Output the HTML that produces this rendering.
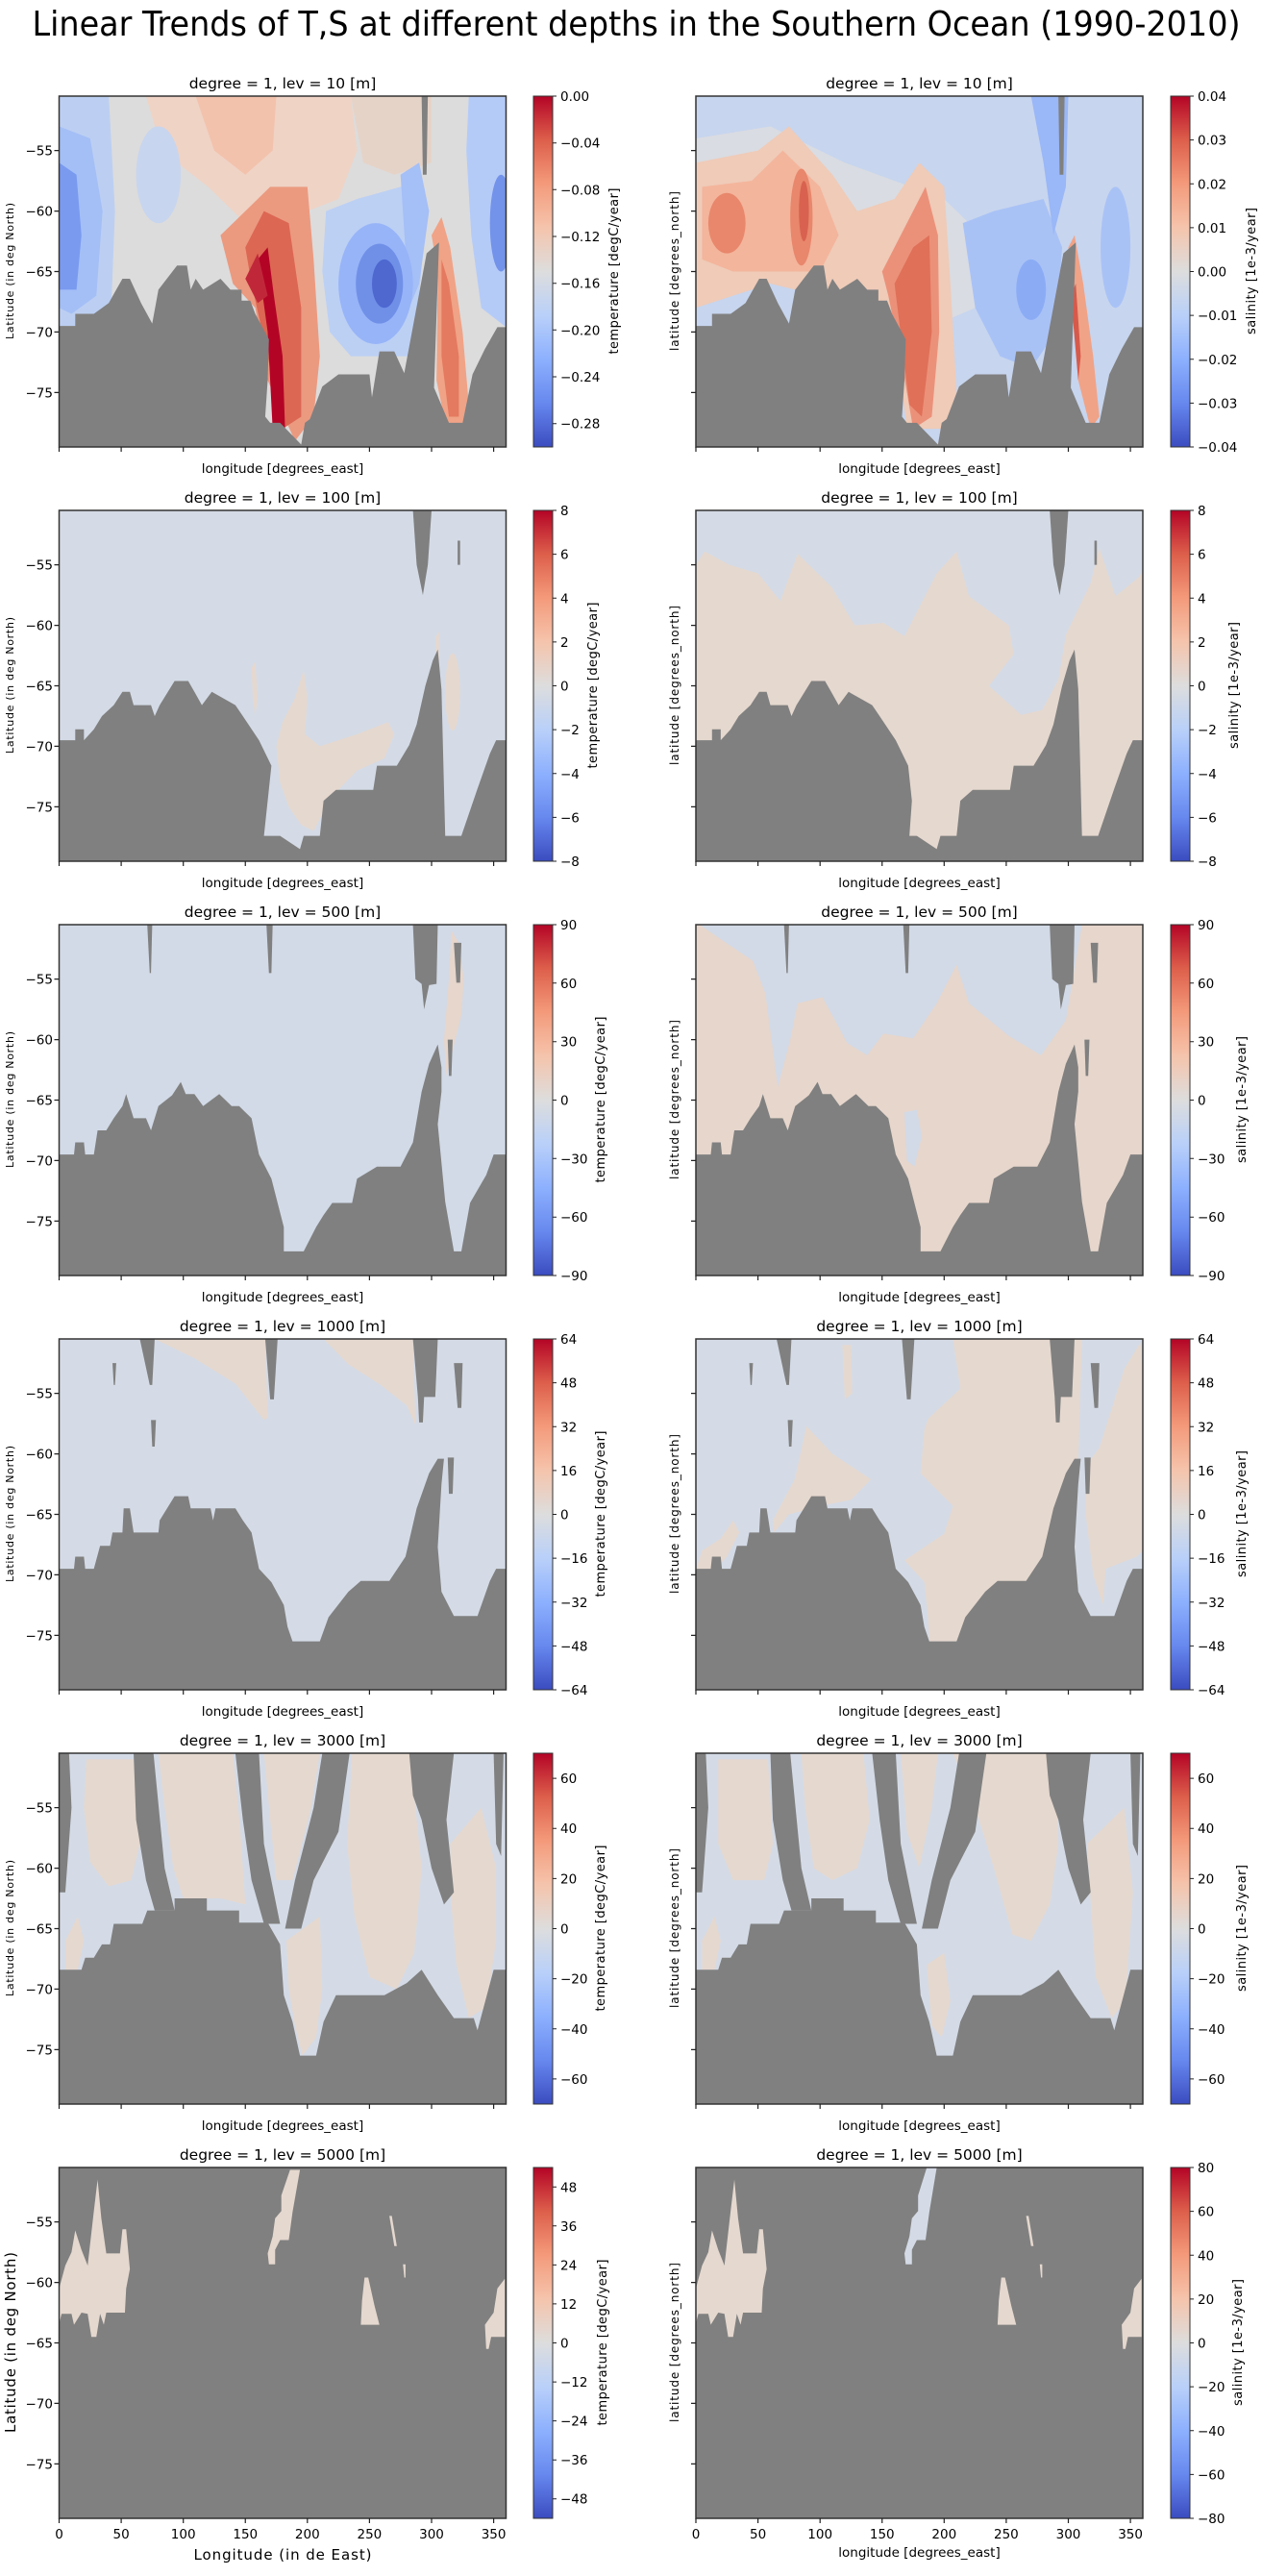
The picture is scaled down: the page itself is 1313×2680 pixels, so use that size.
<!DOCTYPE html>
<html><head><meta charset="utf-8"><style>
html,body{margin:0;padding:0;background:#fff}
svg text{font-family:"DejaVu Sans","Liberation Sans",sans-serif;fill:#000}
</style></head><body>
<svg xmlns="http://www.w3.org/2000/svg" width="1313" height="2675" viewBox="0 0 1313 2675">
<defs>
<linearGradient id="cw" x1="0" y1="0" x2="0" y2="1">
<stop offset="0" stop-color="#b40426"/><stop offset=".125" stop-color="#dd5f4b"/><stop offset=".25" stop-color="#f49a7b"/><stop offset=".375" stop-color="#f5c4ac"/><stop offset=".5" stop-color="#dddddd"/><stop offset=".625" stop-color="#b9d0f9"/><stop offset=".75" stop-color="#8db0fe"/><stop offset=".875" stop-color="#6788ee"/><stop offset="1" stop-color="#3b4cc0"/>
</linearGradient>
<g id="xt" stroke="#222" stroke-width="1.2"><path d="M0,365v5M64.6,365v5M129.2,365v5M193.75,365v5M258.3,365v5M322.9,365v5M387.5,365v5M452.1,365v5"/></g>
<g id="yt" stroke="#222" stroke-width="1.2"><path d="M0,56.6h-5M0,119.6h-5M0,182.5h-5M0,245.4h-5M0,308.4h-5"/></g>
<g id="fr"><rect x="0" y="0" width="465" height="365" fill="none" stroke="#333" stroke-width="1.5"/><use href="#xt"/><use href="#yt"/></g>
<g id="cb"><rect x="0" y="0" width="20" height="365" fill="url(#cw)" stroke="#333" stroke-width="1"/></g>
</defs>
<rect width="1313" height="2675" fill="#fff"/>
<text x="662" y="37" font-size="36" text-anchor="middle" textLength="1257" lengthAdjust="spacingAndGlyphs">Linear Trends of T,S at different depths in the Southern Ocean (1990-2010)</text>

<!-- ROW 1 -->
<g transform="translate(0,100)">
<svg x="61.5" y="0" width="465" height="365" viewBox="0 50.5 360 29" preserveAspectRatio="none">
<rect x="0" y="50.5" width="360" height="29" fill="#dcdcdc"/>
<polygon points="70,50.5 235,50.5 240,55 225,59 200,60 180,61 150,61 120,58 95,56 80,54" fill="#efd3c5"/>
<polygon points="235,50.5 300,50.5 300,56 270,57 245,56" fill="#e6d3c8"/>
<polygon points="110,50.5 175,50.5 172,55 150,57 125,55" fill="#f2c2ad"/>
<polygon points="0,50.5 40,50.5 45,60 42,68 20,69.5 0,69.5" fill="#bccff2"/>
<polygon points="0,53 25,54 35,60 30,67 10,68.5 0,68" fill="#a4bff6"/>
<polygon points="0,56 14,57 18,62 14,66.5 0,66.5" fill="#7a9af0"/>
<ellipse cx="80" cy="57" rx="18" ry="4" fill="#c8d5ee"/>
<polygon points="130,62 150,60 170,58 200,58 205,64 210,72 205,77 190,79 168,74 158,68 140,66" fill="#eb9a80"/>
<polygon points="150,63 165,60 185,61 195,68 195,77 180,78 168,72 155,66" fill="#dc6753"/>
<polygon points="160,64 168,63 173,67 180,72 182,78 172,78 168,70" fill="#b40426"/>
<polygon points="150,65.6 160,63.5 168,67 160,67.6" fill="#c0283a"/>
<polygon points="215,60 240,59 275,58 292,57 296,60 290,67 282,72 260,72 235,72 218,70 212,65" fill="#bcd0f4"/>
<polygon points="275,57 290,56 298,60 290,66 282,68" fill="#a5bff7"/>
<ellipse cx="255" cy="66" rx="30" ry="5" fill="#97b4f8"/>
<ellipse cx="258" cy="66" rx="19" ry="3.3" fill="#7090e8"/>
<ellipse cx="262" cy="66" rx="10" ry="2" fill="#4e68d0"/>
<polygon points="300,62 308,60.5 315,63 325,70 330,76 325,78 312,78 304,74 305,65" fill="#f0a386"/>
<polygon points="308,64 314,66 322,72 322,77 314,77 308,72" fill="#e47a60"/>
<polygon points="330,50.5 360,50.5 360,69.6 340,68 332,62 328,55" fill="#b5cbf7"/>
<ellipse cx="356" cy="61" rx="9" ry="4" fill="#7393ea"/>
<polygon fill="#808080" points="0,69.5 13,69.5 13,68.5 28,68.5 40,67.6 46,66.5 51,65.6 57,65.6 66,67.6 75,69.3 80,66.5 95,64.5 103,64.5 106,66.5 110,65.6 116,66.5 130,65.6 138,66.5 147,66.5 147,67.4 154,67.4 158,68.5 169,70.6 168,74 166,77 170,77.5 178,77.5 195,79.3 198,77.5 202,77.2 212,74.5 225,73.5 250,73.5 252,75.4 258,71.6 270,71.6 278,73.4 284,70.1 296,63.5 306,62.6 302,74.6 314,77.5 325,77.5 333,73.5 343,71.4 353,69.6 360,69.6 360,79.5 0,79.5"/>
<polygon fill="#808080" points="292,50.5 297,50.5 296,57 293,57"/>
</svg>
<svg x="724" y="0" width="465" height="365" viewBox="0 50.5 360 29" preserveAspectRatio="none">
<rect x="0" y="50.5" width="360" height="29" fill="#c7d5ee"/>
<polygon points="0,54 60,53 120,56 200,59 230,62 240,66 225,68 180,70 140,68 100,66 50,66 0,66" fill="#d9dce2"/>
<polygon points="0,56 50,55 75,53 110,57 130,60 160,59 180,56 200,58 205,66 210,75 200,78 170,78 160,70 140,68 100,67 60,66 30,67 0,68" fill="#efcbb8"/>
<polygon points="5,58 45,57.5 70,55 100,58 115,62 100,65 60,65 30,65 5,64" fill="#f3b59c"/>
<ellipse cx="25" cy="61" rx="15" ry="2.5" fill="#e8876c"/>
<ellipse cx="85" cy="60.5" rx="9" ry="4" fill="#e8876c"/>
<ellipse cx="87" cy="60" rx="4" ry="2.5" fill="#d8624f"/>
<polygon points="150,65 170,61 185,58 195,62 196,70 190,77 175,78 165,72 155,67" fill="#eb917a"/>
<polygon points="160,66 175,63 188,62 190,70 182,77 172,76" fill="#e07058"/>
<polygon points="215,61 240,60 280,59 295,63 290,70 270,73 245,72 225,68" fill="#a9c2f6"/>
<ellipse cx="270" cy="66.5" rx="12" ry="2.5" fill="#8bacf5"/>
<polygon points="270,50.5 300,50.5 298,58 288,62 280,56" fill="#9ab7f7"/>
<polygon points="300,63 305,62 312,66 320,72 325,77 318,78 308,74" fill="#f0a387"/>
<polygon points="302,67 306,66 310,72 308,74" fill="#d65a4b"/>
<ellipse cx="338" cy="63" rx="12" ry="5" fill="#a9c2f6"/>
<polygon fill="#808080" points="0,69.5 13,69.5 13,68.5 28,68.5 40,67.6 46,66.5 51,65.6 57,65.6 66,67.6 75,69.3 80,66.5 95,64.5 103,64.5 106,66.5 110,65.6 116,66.5 130,65.6 138,66.5 147,66.5 147,67.4 154,67.4 158,68.5 169,70.6 168,74 166,77 170,77.5 178,77.5 195,79.3 198,77.5 202,77.2 212,74.5 225,73.5 250,73.5 252,75.4 258,71.6 270,71.6 278,73.4 284,70.1 296,63.5 306,62.6 302,74.6 314,77.5 325,77.5 333,73.5 343,71.4 353,69.6 360,69.6 360,79.5 0,79.5"/>
<polygon fill="#808080" points="292,50.5 297,50.5 296,57 293,57"/>
</svg>
<use href="#fr" x="61.5"/><use href="#fr" x="724"/>
<use href="#cb" x="555"/><use href="#cb" x="1218"/>
<text x="294" y="-8" font-size="15.5" text-anchor="middle">degree = 1, lev = 10 [m]</text>
<text x="956.5" y="-8" font-size="15.5" text-anchor="middle">degree = 1, lev = 10 [m]</text>
<g font-size="13.5" text-anchor="end"><text x="55" y="61.6">−55</text><text x="55" y="124.6">−60</text><text x="55" y="187.5">−65</text><text x="55" y="250.4">−70</text><text x="55" y="313.4">−75</text></g>
<text x="294" y="392" font-size="13.5" text-anchor="middle">longitude [degrees_east]</text>
<text x="956.5" y="392" font-size="13.5" text-anchor="middle">longitude [degrees_east]</text>
<text transform="translate(14,182) rotate(-90)" font-size="11" text-anchor="middle" textLength="142">Latitude (in deg North)</text>
<text transform="translate(706,182) rotate(-90)" font-size="12" text-anchor="middle" textLength="166">latitude [degrees_north]</text>
<text transform="translate(643,182) rotate(-90)" font-size="13" text-anchor="middle" textLength="173">temperature [degC/year]</text>
<text transform="translate(1306,182) rotate(-90)" font-size="13" text-anchor="middle" textLength="132">salinity [1e-3/year]</text>
<g stroke="#222"><path d="M575,0h4M575,48.7h4M575,97.3h4M575,146h4M575,194.7h4M575,243.3h4M575,292h4M575,340.7h4M1238,0h4M1238,45.6h4M1238,91.25h4M1238,136.9h4M1238,182.5h4M1238,228.1h4M1238,273.75h4M1238,319.4h4M1238,365h4"/></g>
<g font-size="13.5"><text x="583" y="5">0.00</text><text x="583" y="53.7">−0.04</text><text x="583" y="102.3">−0.08</text><text x="583" y="151">−0.12</text><text x="583" y="199.7">−0.16</text><text x="583" y="248.3">−0.20</text><text x="583" y="297">−0.24</text><text x="583" y="345.7">−0.28</text>
<text x="1246" y="5">0.04</text><text x="1246" y="50.6">0.03</text><text x="1246" y="96.25">0.02</text><text x="1246" y="141.9">0.01</text><text x="1246" y="187.5">0.00</text><text x="1246" y="233.1">−0.01</text><text x="1246" y="278.75">−0.02</text><text x="1246" y="324.4">−0.03</text><text x="1246" y="370">−0.04</text></g>
</g>

<!-- ROW 2 -->
<g transform="translate(0,531)">
<svg x="61.5" y="0" width="465" height="365" viewBox="0 50.5 360 29" preserveAspectRatio="none">
<rect x="0" y="50.5" width="360" height="29" fill="#d4dbe6"/>
<polygon points="155,63.5 158,63 160,66 158,67.5 156,66" fill="#e5d8cf"/>
<polygon points="197,63.7 200,66 198,69 210,70 240,69 265,68 270,69 262,71 240,72 225,73.6 215,75 205,77 195,76.5 185,75 178,73 175,70 180,68 190,66" fill="#e5d8cf"/>
<ellipse cx="317" cy="65.5" rx="6" ry="3.2" fill="#e5d8cf"/>
<polygon points="303,61 306,60.5 306,63 304,63" fill="#e5d8cf"/>
<polygon fill="#808080" points="0,69.5 13,69.5 13,68.6 20,68.6 20,69.5 28,68.6 34.5,67.5 44,66.6 51,65.5 57,65.5 60,66.6 74,66.6 77,67.5 81,66.6 93,64.6 104,64.6 109,65.5 115,66.6 123,65.5 142,66.6 148,67.5 161,69.5 171,71.6 168,74.5 165,77.4 178,77.4 194,78.5 197,77.4 210,77.4 213,74.5 223,73.6 253,73.6 256,71.6 272,71.6 282,69.9 288,68.2 295,65 301,62.9 305,62 308,65.3 311,77.4 324,77.4 337,73.5 347,70.6 352,69.5 360,69.5 360,79.5 0,79.5"/>
<polygon fill="#808080" points="285,50.5 300,50.5 297,55 293,57.5 288,55"/>
<polygon fill="#808080" points="321,53 323,53 323,55 321,55"/>
</svg>
<svg x="724" y="0" width="465" height="365" viewBox="0 50.5 360 29" preserveAspectRatio="none">
<rect x="0" y="50.5" width="360" height="29" fill="#d4dbe6"/>
<polygon fill="#e5d8cf" points="0,55 7,53.9 27,55 50,55.7 68,58 82,54.1 109,56.8 128,60 151,59.8 168,60.9 194,55.7 210,53.9 220,57.6 252,60 256,62.4 236,65 262,67.4 279,67 292,64.5 298,60.8 318,56.5 325,53.6 338,57.6 357,56 360,55.5 360,79.5 0,79.5"/>
<polygon fill="#808080" points="0,69.5 13,69.5 13,68.6 20,68.6 20,69.5 28,68.6 34.5,67.5 44,66.6 51,65.5 57,65.5 60,66.6 74,66.6 77,67.5 81,66.6 93,64.6 104,64.6 109,65.5 115,66.6 123,65.5 142,66.6 148,67.5 161,69.5 171,71.6 174,74.5 172,77.4 178,77.4 194,78.5 197,77.4 210,77.4 213,74.5 223,73.6 253,73.6 256,71.6 272,71.6 282,69.9 288,68.2 295,65 301,62.9 305,62 308,65.3 311,77.4 324,77.4 337,73.5 347,70.6 352,69.5 360,69.5 360,79.5 0,79.5"/>
<polygon fill="#808080" points="285,50.5 300,50.5 297,55 293,57.5 288,55"/>
<polygon fill="#808080" points="321,53 323,53 323,55 321,55"/>
</svg>
<use href="#fr" x="61.5"/><use href="#fr" x="724"/>
<use href="#cb" x="555"/><use href="#cb" x="1218"/>
<text x="294" y="-8" font-size="15.5" text-anchor="middle">degree = 1, lev = 100 [m]</text>
<text x="956.5" y="-8" font-size="15.5" text-anchor="middle">degree = 1, lev = 100 [m]</text>
<g font-size="13.5" text-anchor="end"><text x="55" y="61.6">−55</text><text x="55" y="124.6">−60</text><text x="55" y="187.5">−65</text><text x="55" y="250.4">−70</text><text x="55" y="313.4">−75</text></g>
<text x="294" y="392" font-size="13.5" text-anchor="middle">longitude [degrees_east]</text>
<text x="956.5" y="392" font-size="13.5" text-anchor="middle">longitude [degrees_east]</text>
<text transform="translate(14,182) rotate(-90)" font-size="11" text-anchor="middle" textLength="142">Latitude (in deg North)</text>
<text transform="translate(706,182) rotate(-90)" font-size="12" text-anchor="middle" textLength="166">latitude [degrees_north]</text>
<text transform="translate(621,182) rotate(-90)" font-size="13" text-anchor="middle" textLength="173">temperature [degC/year]</text>
<text transform="translate(1288,182) rotate(-90)" font-size="13" text-anchor="middle" textLength="132">salinity [1e-3/year]</text>
<g stroke="#222"><path d="M575,0h4M575,45.6h4M575,91.25h4M575,136.9h4M575,182.5h4M575,228.1h4M575,273.75h4M575,319.4h4M575,365h4M1238,0h4M1238,45.6h4M1238,91.25h4M1238,136.9h4M1238,182.5h4M1238,228.1h4M1238,273.75h4M1238,319.4h4M1238,365h4"/></g>
<g font-size="13.5"><text x="583" y="5">8</text><text x="583" y="50.6">6</text><text x="583" y="96.25">4</text><text x="583" y="141.9">2</text><text x="583" y="187.5">0</text><text x="583" y="233.1">−2</text><text x="583" y="278.75">−4</text><text x="583" y="324.4">−6</text><text x="583" y="370">−8</text>
<text x="1246" y="5">8</text><text x="1246" y="50.6">6</text><text x="1246" y="96.25">4</text><text x="1246" y="141.9">2</text><text x="1246" y="187.5">0</text><text x="1246" y="233.1">−2</text><text x="1246" y="278.75">−4</text><text x="1246" y="324.4">−6</text><text x="1246" y="370">−8</text></g>
</g>

<!-- ROW 3 -->
<g transform="translate(0,962)">
<svg x="61.5" y="0" width="465" height="365" viewBox="0 50.5 360 29" preserveAspectRatio="none">
<rect x="0" y="50.5" width="360" height="29" fill="#d2dae7"/>
<polygon points="316,51 322,52 326,55 324,58 318,60.5 312,63 310,60 314,55" fill="#e6d6cc"/>
<polygon fill="#808080" points="0,69.5 12,69.5 13,68.5 20,68.5 21,69.5 28,69.5 31,67.5 38,67.5 44,66.5 51,65.5 54,64.5 57,65.5 60,66.5 70,66.5 74,67.5 80,65.5 91,64.6 98,63.5 102,64.5 109,64.5 116,65.5 129,64.5 139,65.5 145,65.5 155,66.5 161,69.5 171,71.5 181,75.5 181,77.5 197,77.5 207,75.5 213,74.5 220,73.5 236,73.5 240,71.5 256,70.5 275,70.5 279,69.7 285,68.5 292,64.3 298,62 305,60.4 308,62.3 308,64.3 305,67 311,73.4 318,77.5 324,77.5 331,73.5 344,71.2 350,69.5 360,69.5 360,79.5 0,79.5"/>
<g fill="#808080"><polygon points="71,50.5 75,50.5 74,54.5 73,54.5"/><polygon points="167,50.5 172,50.5 171,54.5 169,54.5"/><polygon points="285,50.5 305,50.5 304,55.4 298,55.5 294,57.5 292,55.4 287,55"/><polygon points="318,52 324,52 323,55.3 320,55.3"/><polygon points="313,60 317,60 316,63 314,63"/></g>
</svg>
<svg x="724" y="0" width="465" height="365" viewBox="0 50.5 360 29" preserveAspectRatio="none">
<rect x="0" y="50.5" width="360" height="29" fill="#e6d6cc"/>
<polygon fill="#d2dae7" points="3,50.5 311,50.5 298,58.4 278,61.3 252,59.7 220,57 210,53.8 194,57 175,59.9 151,59.5 138,61.3 122,60.3 102,56.5 82,57 76,60 66,63.9 56,56.2 46,53.5 10,51"/>
<polygon fill="#d2dae7" points="168,66 178,65.8 182,68 176,70.5 170,70"/>
<polygon fill="#808080" points="0,69.5 12,69.5 13,68.5 20,68.5 21,69.5 28,69.5 31,67.5 38,67.5 44,66.5 51,65.5 54,64.5 57,65.5 60,66.5 70,66.5 74,67.5 80,65.5 91,64.6 98,63.5 102,64.5 109,64.5 116,65.5 129,64.5 139,65.5 145,65.5 155,66.5 161,69.5 171,71.5 181,75.5 181,77.5 197,77.5 207,75.5 213,74.5 220,73.5 236,73.5 240,71.5 256,70.5 275,70.5 279,69.7 285,68.5 292,64.3 298,62 305,60.4 308,62.3 308,64.3 305,67 311,73.4 318,77.5 324,77.5 331,73.5 344,71.2 350,69.5 360,69.5 360,79.5 0,79.5"/>
<g fill="#808080"><polygon points="71,50.5 75,50.5 74,54.5 73,54.5"/><polygon points="167,50.5 172,50.5 171,54.5 169,54.5"/><polygon points="285,50.5 305,50.5 304,55.4 298,55.5 294,57.5 292,55.4 287,55"/><polygon points="318,52 324,52 323,55.3 320,55.3"/><polygon points="313,60 317,60 316,63 314,63"/></g>
</svg>
<use href="#fr" x="61.5"/><use href="#fr" x="724"/>
<use href="#cb" x="555"/><use href="#cb" x="1218"/>
<text x="294" y="-8" font-size="15.5" text-anchor="middle">degree = 1, lev = 500 [m]</text>
<text x="956.5" y="-8" font-size="15.5" text-anchor="middle">degree = 1, lev = 500 [m]</text>
<g font-size="13.5" text-anchor="end"><text x="55" y="61.6">−55</text><text x="55" y="124.6">−60</text><text x="55" y="187.5">−65</text><text x="55" y="250.4">−70</text><text x="55" y="313.4">−75</text></g>
<text x="294" y="392" font-size="13.5" text-anchor="middle">longitude [degrees_east]</text>
<text x="956.5" y="392" font-size="13.5" text-anchor="middle">longitude [degrees_east]</text>
<text transform="translate(14,182) rotate(-90)" font-size="11" text-anchor="middle" textLength="142">Latitude (in deg North)</text>
<text transform="translate(706,182) rotate(-90)" font-size="12" text-anchor="middle" textLength="166">latitude [degrees_north]</text>
<text transform="translate(629,182) rotate(-90)" font-size="13" text-anchor="middle" textLength="173">temperature [degC/year]</text>
<text transform="translate(1296,182) rotate(-90)" font-size="13" text-anchor="middle" textLength="132">salinity [1e-3/year]</text>
<g stroke="#222"><path d="M575,0h4M575,60.8h4M575,121.7h4M575,182.5h4M575,243.3h4M575,304.2h4M575,365h4M1238,0h4M1238,60.8h4M1238,121.7h4M1238,182.5h4M1238,243.3h4M1238,304.2h4M1238,365h4"/></g>
<g font-size="13.5"><text x="583" y="5">90</text><text x="583" y="65.8">60</text><text x="583" y="126.7">30</text><text x="583" y="187.5">0</text><text x="583" y="248.3">−30</text><text x="583" y="309.2">−60</text><text x="583" y="370">−90</text>
<text x="1246" y="5">90</text><text x="1246" y="65.8">60</text><text x="1246" y="126.7">30</text><text x="1246" y="187.5">0</text><text x="1246" y="248.3">−30</text><text x="1246" y="309.2">−60</text><text x="1246" y="370">−90</text></g>
</g>

<!-- ROW 4 -->
<g transform="translate(0,1393)">
<svg x="61.5" y="0" width="465" height="365" viewBox="0 50.5 360 29" preserveAspectRatio="none">
<rect x="0" y="50.5" width="360" height="29" fill="#d4dbe6"/>
<polygon fill="#e5d8cf" points="77,50.5 166,50.5 168,57 165,57.2 142,54.2 109,52.1"/>
<polygon fill="#e5d8cf" points="213,50.5 285,50.5 287,57.6 280,56 259,54.3 233,52.6"/>
<polygon fill="#808080" points="0,69.5 12,69.5 13,68.5 20,68.5 21,69.5 28,69.5 33,67.6 41,67.6 43,66.5 51,66.5 52,64.5 57,64.5 60,66.5 80,66.5 81,65.5 93,63.5 104,63.5 106,64.5 122,64.5 124,65.5 126,64.5 142,64.5 148,65.5 155,66.5 161,69.5 171,70.6 181,72.5 184,74.3 188,75.5 210,75.5 217,73.5 233,71.4 243,70.5 266,70.5 279,68.5 288,64.5 298,61.6 305,60.4 310,60.4 308,62.5 305,67.7 308,71.4 318,73.4 337,73.4 347,70.5 352,69.5 360,69.5 360,79.5 0,79.5"/>
<g fill="#808080"><polygon points="65,50.5 77,50.5 75,54.3 73,54.3"/><polygon points="166,50.5 176,50.5 173,55.5 170,55.5"/><polygon points="285,50.5 305,50.5 303,55.3 294,55.3 293,57.4 290,57.4 289,55.3"/><polygon points="318,52.5 325,52.5 324,56.2 321,56.2"/><polygon points="313,60.3 318,60.3 317,63.3 314,63.3"/><polygon points="74,57.2 78,57.2 77,59.4 75,59.4"/><polygon points="43,52.5 46,52.5 45,54.3 44,54.3"/></g>
</svg>
<svg x="724" y="0" width="465" height="365" viewBox="0 50.5 360 29" preserveAspectRatio="none">
<rect x="0" y="50.5" width="360" height="29" fill="#d4dbe6"/>
<polygon fill="#e5d8cf" points="207,50.5 311,50.5 308,60.6 300,62 298,64 292,68 286,70.5 266,70.8 243,70.8 233,71.6 217,73.6 212,75.5 188,75.5 187,73.5 184,70.6 168,68.8 200,66.6 207,64.3 181,61.6 184,58 187,57.1 213,54.6"/>
<polygon fill="#e5d8cf" points="325,59.5 345,53 358,50.8 360,53 360,68 355,68.5 330,69.5 328,72.5 320,70 314,65 314,61"/>
<polygon fill="#e5d8cf" points="89,57.7 110,60 141,62.1 125,63.8 100,64.3 75,65 63,66.5 62,65.5 80,62"/>
<polygon fill="#e5d8cf" points="0,69.6 5,68 20,67 30,65.5 35,66.5 25,68.5 15,69.6"/>
<polygon fill="#e5d8cf" points="118,51 125,51 126,55 120,55.5"/>
<polygon fill="#808080" points="0,69.5 12,69.5 13,68.5 20,68.5 21,69.5 28,69.5 33,67.6 41,67.6 43,66.5 51,66.5 52,64.5 57,64.5 60,66.5 80,66.5 81,65.5 93,63.5 104,63.5 106,64.5 122,64.5 124,65.5 126,64.5 142,64.5 148,65.5 155,66.5 161,69.5 171,70.6 181,72.5 184,74.3 188,75.5 210,75.5 217,73.5 233,71.4 243,70.5 266,70.5 279,68.5 288,64.5 298,61.6 305,60.4 310,60.4 308,62.5 305,67.7 308,71.4 318,73.4 337,73.4 347,70.5 352,69.5 360,69.5 360,79.5 0,79.5"/>
<g fill="#808080"><polygon points="65,50.5 77,50.5 75,54.3 73,54.3"/><polygon points="166,50.5 176,50.5 173,55.5 170,55.5"/><polygon points="285,50.5 305,50.5 303,55.3 294,55.3 293,57.4 290,57.4 289,55.3"/><polygon points="318,52.5 325,52.5 324,56.2 321,56.2"/><polygon points="313,60.3 318,60.3 317,63.3 314,63.3"/><polygon points="74,57.2 78,57.2 77,59.4 75,59.4"/><polygon points="43,52.5 46,52.5 45,54.3 44,54.3"/></g>
</svg>
<use href="#fr" x="61.5"/><use href="#fr" x="724"/>
<use href="#cb" x="555"/><use href="#cb" x="1218"/>
<text x="294" y="-8" font-size="15.5" text-anchor="middle">degree = 1, lev = 1000 [m]</text>
<text x="956.5" y="-8" font-size="15.5" text-anchor="middle">degree = 1, lev = 1000 [m]</text>
<g font-size="13.5" text-anchor="end"><text x="55" y="61.6">−55</text><text x="55" y="124.6">−60</text><text x="55" y="187.5">−65</text><text x="55" y="250.4">−70</text><text x="55" y="313.4">−75</text></g>
<text x="294" y="392" font-size="13.5" text-anchor="middle">longitude [degrees_east]</text>
<text x="956.5" y="392" font-size="13.5" text-anchor="middle">longitude [degrees_east]</text>
<text transform="translate(14,182) rotate(-90)" font-size="11" text-anchor="middle" textLength="142">Latitude (in deg North)</text>
<text transform="translate(706,182) rotate(-90)" font-size="12" text-anchor="middle" textLength="166">latitude [degrees_north]</text>
<text transform="translate(629,182) rotate(-90)" font-size="13" text-anchor="middle" textLength="173">temperature [degC/year]</text>
<text transform="translate(1296,182) rotate(-90)" font-size="13" text-anchor="middle" textLength="132">salinity [1e-3/year]</text>
<g stroke="#222"><path d="M575,0h4M575,45.6h4M575,91.25h4M575,136.9h4M575,182.5h4M575,228.1h4M575,273.75h4M575,319.4h4M575,365h4M1238,0h4M1238,45.6h4M1238,91.25h4M1238,136.9h4M1238,182.5h4M1238,228.1h4M1238,273.75h4M1238,319.4h4M1238,365h4"/></g>
<g font-size="13.5"><text x="583" y="5">64</text><text x="583" y="50.6">48</text><text x="583" y="96.25">32</text><text x="583" y="141.9">16</text><text x="583" y="187.5">0</text><text x="583" y="233.1">−16</text><text x="583" y="278.75">−32</text><text x="583" y="324.4">−48</text><text x="583" y="370">−64</text>
<text x="1246" y="5">64</text><text x="1246" y="50.6">48</text><text x="1246" y="96.25">32</text><text x="1246" y="141.9">16</text><text x="1246" y="187.5">0</text><text x="1246" y="233.1">−16</text><text x="1246" y="278.75">−32</text><text x="1246" y="324.4">−48</text><text x="1246" y="370">−64</text></g>
</g>

<!-- ROW 5 -->
<g transform="translate(0,1824)">
<svg x="61.5" y="0" width="465" height="365" viewBox="0 50.5 360 29" preserveAspectRatio="none">
<rect x="0" y="50.5" width="360" height="29" fill="#d4dbe6"/>
<g fill="#e5d8cf">
<polygon points="22,51 60,51 65,58 58,61 40,61.5 25,59.5 20,55"/>
<polygon points="80,50.5 140,50.5 146,57 150,63 130,62.5 100,62.5 92,60 85,55"/>
<polygon points="165,50.5 210,50.5 203,55 188,61 175,61 170,56"/>
<polygon points="236,50.5 282,50.5 287,55 292,60 286,67 272,70 250,69 238,64 232,58"/>
<polygon points="183,66 210,64 212,70 207,74 196,75.5 190,73 185,70"/>
<polygon points="315,58 340,55 352,60 352,66 344,71.5 330,72.4 320,68 316,63"/>
<polygon points="5,66 15,64 20,66 15,68.4 5,68.4"/>
</g>
<g fill="#808080">
<polygon points="0,68.4 18,68.4 21,67.4 28,67.4 34.5,66.3 41,66.3 44,64.6 67,64.6 71,63.5 93,63.5 93,62.5 119,62.5 119,63.5 145,63.5 145,64.5 168,64.5 178,66.3 181,70.5 188,72.7 194,75.5 207,75.5 213,72.7 223,70.5 262,70.5 280,69.5 292,68.4 305,70.5 318,72.4 334,72.4 337,73.4 350,68.4 360,68.4 360,79.5 0,79.5"/>
<polygon points="60,50.5 76,50.5 85,60 93,63.5 77,63.5 70,61 62,56"/>
<polygon points="142,50.5 161,50.5 165,58 178,64.6 165,64.6 155,61 148,56"/>
<polygon points="212,50.5 234,50.5 225,57 205,61 195,65 182,65 190,61 205,55"/>
<polygon points="282,50.5 318,50.5 312,56 318,62 310,63 300,60 292,56 285,54"/>
<polygon points="350,50.5 358,50.5 356,59 352,58"/>
<polygon points="0,50.5 8,50.5 10,55 5,62 0,62"/>
</g>
</svg>
<svg x="724" y="0" width="465" height="365" viewBox="0 50.5 360 29" preserveAspectRatio="none">
<rect x="0" y="50.5" width="360" height="29" fill="#d4dbe6"/>
<g fill="#e5d8cf">
<polygon points="18,51 58,51 62,58 55,61 30,61 18,58"/>
<polygon points="85,50.5 135,50.5 140,56 130,60 110,61 95,60 88,55"/>
<polygon points="165,50.5 195,50.5 190,55 180,60 170,57"/>
<polygon points="207,50.5 290,50.5 292,58 285,63 270,66 255,65.5 240,60 225,55"/>
<polygon points="186,68 200,67 205,71 198,74 190,73"/>
<polygon points="315,58 345,55 352,62 346,71 335,72.4 322,69"/>
<polygon points="5,66 15,64 20,66 15,68.4 5,68.4"/>
</g>
<g fill="#808080">
<polygon points="0,68.4 18,68.4 21,67.4 28,67.4 34.5,66.3 41,66.3 44,64.6 67,64.6 71,63.5 93,63.5 93,62.5 119,62.5 119,63.5 145,63.5 145,64.5 168,64.5 178,66.3 181,70.5 188,72.7 194,75.5 207,75.5 213,72.7 223,70.5 262,70.5 280,69.5 292,68.4 305,70.5 318,72.4 334,72.4 337,73.4 350,68.4 360,68.4 360,79.5 0,79.5"/>
<polygon points="60,50.5 76,50.5 85,60 93,63.5 77,63.5 70,61 62,56"/>
<polygon points="142,50.5 161,50.5 165,58 178,64.6 165,64.6 155,61 148,56"/>
<polygon points="212,50.5 234,50.5 225,57 205,61 195,65 182,65 190,61 205,55"/>
<polygon points="282,50.5 318,50.5 312,56 318,62 310,63 300,60 292,56 285,54"/>
<polygon points="350,50.5 358,50.5 356,59 352,58"/>
<polygon points="0,50.5 8,50.5 10,55 5,62 0,62"/>
</g>
</svg>
<use href="#fr" x="61.5"/><use href="#fr" x="724"/>
<use href="#cb" x="555"/><use href="#cb" x="1218"/>
<text x="294" y="-8" font-size="15.5" text-anchor="middle">degree = 1, lev = 3000 [m]</text>
<text x="956.5" y="-8" font-size="15.5" text-anchor="middle">degree = 1, lev = 3000 [m]</text>
<g font-size="13.5" text-anchor="end"><text x="55" y="61.6">−55</text><text x="55" y="124.6">−60</text><text x="55" y="187.5">−65</text><text x="55" y="250.4">−70</text><text x="55" y="313.4">−75</text></g>
<text x="294" y="392" font-size="13.5" text-anchor="middle">longitude [degrees_east]</text>
<text x="956.5" y="392" font-size="13.5" text-anchor="middle">longitude [degrees_east]</text>
<text transform="translate(14,182) rotate(-90)" font-size="11" text-anchor="middle" textLength="142">Latitude (in deg North)</text>
<text transform="translate(706,182) rotate(-90)" font-size="12" text-anchor="middle" textLength="166">latitude [degrees_north]</text>
<text transform="translate(629,182) rotate(-90)" font-size="13" text-anchor="middle" textLength="173">temperature [degC/year]</text>
<text transform="translate(1296,182) rotate(-90)" font-size="13" text-anchor="middle" textLength="132">salinity [1e-3/year]</text>
<g stroke="#222"><path d="M575,26.1h4M575,78.2h4M575,130.4h4M575,182.5h4M575,234.6h4M575,286.8h4M575,338.9h4M1238,26.1h4M1238,78.2h4M1238,130.4h4M1238,182.5h4M1238,234.6h4M1238,286.8h4M1238,338.9h4"/></g>
<g font-size="13.5"><text x="583" y="31.1">60</text><text x="583" y="83.2">40</text><text x="583" y="135.4">20</text><text x="583" y="187.5">0</text><text x="583" y="239.6">−20</text><text x="583" y="291.8">−40</text><text x="583" y="343.9">−60</text>
<text x="1246" y="31.1">60</text><text x="1246" y="83.2">40</text><text x="1246" y="135.4">20</text><text x="1246" y="187.5">0</text><text x="1246" y="239.6">−20</text><text x="1246" y="291.8">−40</text><text x="1246" y="343.9">−60</text></g>
</g>

<!-- ROW 6 -->
<g transform="translate(0,2255)">
<svg x="61.5" y="0" width="465" height="365" viewBox="0 50.5 360 29" preserveAspectRatio="none">
<rect x="0" y="50.5" width="360" height="29" fill="#808080"/>
<g fill="#e5d8cf">
<polygon points="0,60.5 5,58.6 10,57.5 13,55.7 18,57.3 23,58.6 28,54.1 31,51.5 34,54.7 38,57.6 49,57.6 51,55.6 54,55.6 57,58.9 54,60.5 53,62.5 38,62.5 36,63.5 33,62.6 30,64.5 26,64.5 23,62.6 18,62.5 12,63.5 10,62.6 2,62.6 0,63.4"/>
<polygon points="186,50.7 194,50.7 188,54.2 185,56.5 178,56.5 174,57.3 174,58.5 169,58.5 168,57.6 172,56.2 174,54.7 179,54.1 179,52.8"/>
<polygon points="246,59.6 249,59.6 254,61.9 258,63.5 243,63.5 244,61.5"/>
<polygon points="353,60.5 359,59.7 359,64.5 348,64.5 346,65.5 344,65.5 343,63.5 350,62.5"/>
<polygon points="266,54.5 268,54.5 272,57 270,57"/>
<polygon points="277,58.5 279,58.5 279,59.6 278,59.6"/>
</g>
</svg>
<svg x="724" y="0" width="465" height="365" viewBox="0 50.5 360 29" preserveAspectRatio="none">
<rect x="0" y="50.5" width="360" height="29" fill="#808080"/>
<g fill="#e5d8cf">
<polygon points="0,60.5 5,58.6 10,57.5 13,55.7 18,57.3 23,58.6 28,54.1 31,51.5 34,54.7 38,57.6 49,57.6 51,55.6 54,55.6 57,58.9 54,60.5 53,62.5 38,62.5 36,63.5 33,62.6 30,64.5 26,64.5 23,62.6 18,62.5 12,63.5 10,62.6 2,62.6 0,63.4"/>
<polygon points="246,59.6 249,59.6 254,61.9 258,63.5 243,63.5 244,61.5"/>
<polygon points="353,60.5 359,59.7 359,64.5 348,64.5 346,65.5 344,65.5 343,63.5 350,62.5"/>
<polygon points="266,54.5 268,54.5 272,57 270,57"/>
<polygon points="277,58.5 279,58.5 279,59.6 278,59.6"/>
</g>
<polygon fill="#d4dbe6" points="186,50.5 194,50.5 188,54.2 185,56.5 178,56.5 174,57.3 174,58.5 169,58.5 168,57.6 172,56.2 174,54.7 179,54.1 179,52.8"/>
</svg>
<use href="#fr" x="61.5"/><use href="#fr" x="724"/>
<use href="#cb" x="555"/><use href="#cb" x="1218"/>
<text x="294" y="-8" font-size="15.5" text-anchor="middle">degree = 1, lev = 5000 [m]</text>
<text x="956.5" y="-8" font-size="15.5" text-anchor="middle">degree = 1, lev = 5000 [m]</text>
<g font-size="13.5" text-anchor="end"><text x="55" y="61.6">−55</text><text x="55" y="124.6">−60</text><text x="55" y="187.5">−65</text><text x="55" y="250.4">−70</text><text x="55" y="313.4">−75</text></g>
<g font-size="13.5" text-anchor="middle">
<text x="61.5" y="386">0</text><text x="126.1" y="386">50</text><text x="190.7" y="386">100</text><text x="255.25" y="386">150</text><text x="319.8" y="386">200</text><text x="384.4" y="386">250</text><text x="449" y="386">300</text><text x="513.6" y="386">350</text>
<text x="724" y="386">0</text><text x="788.6" y="386">50</text><text x="853.2" y="386">100</text><text x="917.75" y="386">150</text><text x="982.3" y="386">200</text><text x="1046.9" y="386">250</text><text x="1111.5" y="386">300</text><text x="1176.1" y="386">350</text>
</g>
<text x="294" y="408" font-size="15" text-anchor="middle" textLength="185">Longitude (in de East)</text>
<text x="956.5" y="405" font-size="13.5" text-anchor="middle">longitude [degrees_east]</text>
<text transform="translate(16,182) rotate(-90)" font-size="15" text-anchor="middle" textLength="188">Latitude (in deg North)</text>
<text transform="translate(706,182) rotate(-90)" font-size="12" text-anchor="middle" textLength="166">latitude [degrees_north]</text>
<text transform="translate(631,182) rotate(-90)" font-size="13" text-anchor="middle" textLength="173">temperature [degC/year]</text>
<text transform="translate(1292,182) rotate(-90)" font-size="13" text-anchor="middle" textLength="132">salinity [1e-3/year]</text>
<g stroke="#222"><path d="M575,20.3h4M575,60.8h4M575,101.4h4M575,141.9h4M575,182.5h4M575,223.1h4M575,263.6h4M575,304.2h4M575,344.7h4M1238,0h4M1238,45.6h4M1238,91.25h4M1238,136.9h4M1238,182.5h4M1238,228.1h4M1238,273.75h4M1238,319.4h4M1238,365h4"/></g>
<g font-size="13.5"><text x="583" y="25.3">48</text><text x="583" y="65.8">36</text><text x="583" y="106.4">24</text><text x="583" y="146.9">12</text><text x="583" y="187.5">0</text><text x="583" y="228.1">−12</text><text x="583" y="268.6">−24</text><text x="583" y="309.2">−36</text><text x="583" y="349.7">−48</text>
<text x="1246" y="5">80</text><text x="1246" y="50.6">60</text><text x="1246" y="96.25">40</text><text x="1246" y="141.9">20</text><text x="1246" y="187.5">0</text><text x="1246" y="233.1">−20</text><text x="1246" y="278.75">−40</text><text x="1246" y="324.4">−60</text><text x="1246" y="370">−80</text></g>
</g>
</svg>
</body></html>
